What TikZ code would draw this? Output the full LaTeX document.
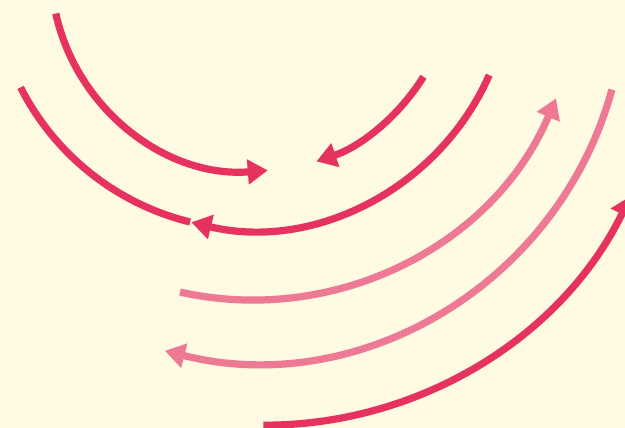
\documentclass[tikz,border=0pt]{standalone}
\usepackage{tikz}
\usetikzlibrary{arrows.meta}
\usepackage{xcolor}
\definecolor{paper}{RGB}{255,250,226}
\definecolor{crimson}{RGB}{230,50,95}
\definecolor{blush}{RGB}{237,121,149}
\tikzset{
  ring/.style={line width=7.2pt, line cap=butt},
  ringtip/.style={-{Triangle[length=20pt, width=24pt]}},
  bare/.style={},
}

\begin{document}
\begin{tikzpicture}[x=1pt, y=-1pt]

% ── Canvas ───────────────────────────────────────────────────────────────────
\useasboundingbox (0,0) rectangle (625,428);
\fill[paper] (0,0) rectangle (625,428);
\clip (0,0) rectangle (625,428);

% Ring centres
\coordinate (hub)  at (252,-30);
\coordinate (hubF) at (255,-8);
\coordinate (hubG) at (264.7,18.4);

% ── Rings: centre / radius / from / to / colour / tip ───────────────────────
\foreach \hb/\rad/\from/\to/\col/\tip in {
    hub/201/167.5/85.5/crimson/ringtip,
    hub/202/31.9/71.4/crimson/ringtip,
    hub/259.5/153.1/103.8/crimson/bare,
    hub/259.5/23.9/103.5/crimson/ringtip,
    hub/330/102.6/22.9/blush/ringtip,
    hubF/370/15.3/104.1/blush/ringtip,
    hubG/406.8/90.2/25.9/crimson/ringtip} {
  \draw[ring, \col, \tip] (\hb) ++(\from:\rad)
       arc[start angle=\from, end angle=\to, radius=\rad];
}

\end{tikzpicture}
\end{document}
